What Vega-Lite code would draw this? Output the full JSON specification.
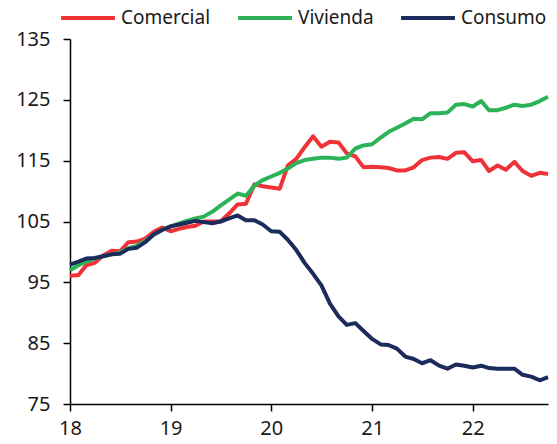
{
  "$schema": "https://vega.github.io/schema/vega-lite/v6.json",
  "width": 478,
  "height": 365,
  "autosize": "none",
  "padding": {"left": 70, "top": 39, "right": 9, "bottom": 40},
  "background": "white",
  "data": {
    "values": [
      {"fecha": "2018-01", "Comercial": 96.1, "Vivienda": 97.0, "Consumo": 97.9},
      {"fecha": "2018-02", "Comercial": 96.2, "Vivienda": 97.8, "Consumo": 98.4},
      {"fecha": "2018-03", "Comercial": 97.8, "Vivienda": 98.4, "Consumo": 98.9},
      {"fecha": "2018-04", "Comercial": 98.2, "Vivienda": 98.9, "Consumo": 99.0},
      {"fecha": "2018-05", "Comercial": 99.4, "Vivienda": 99.3, "Consumo": 99.3},
      {"fecha": "2018-06", "Comercial": 100.2, "Vivienda": 99.6, "Consumo": 99.6},
      {"fecha": "2018-07", "Comercial": 100.1, "Vivienda": 99.9, "Consumo": 99.7},
      {"fecha": "2018-08", "Comercial": 101.6, "Vivienda": 100.6, "Consumo": 100.5},
      {"fecha": "2018-09", "Comercial": 101.7, "Vivienda": 101.0, "Consumo": 100.7},
      {"fecha": "2018-10", "Comercial": 102.2, "Vivienda": 101.8, "Consumo": 101.6},
      {"fecha": "2018-11", "Comercial": 103.3, "Vivienda": 102.8, "Consumo": 102.9},
      {"fecha": "2018-12", "Comercial": 104.0, "Vivienda": 103.6, "Consumo": 103.6},
      {"fecha": "2019-01", "Comercial": 103.4, "Vivienda": 104.2, "Consumo": 104.2},
      {"fecha": "2019-02", "Comercial": 103.8, "Vivienda": 104.7, "Consumo": 104.5},
      {"fecha": "2019-03", "Comercial": 104.1, "Vivienda": 105.1, "Consumo": 104.8},
      {"fecha": "2019-04", "Comercial": 104.3, "Vivienda": 105.5, "Consumo": 105.1},
      {"fecha": "2019-05", "Comercial": 105.0, "Vivienda": 105.8, "Consumo": 104.9},
      {"fecha": "2019-06", "Comercial": 105.0, "Vivienda": 106.6, "Consumo": 104.7},
      {"fecha": "2019-07", "Comercial": 105.0, "Vivienda": 107.6, "Consumo": 105.0},
      {"fecha": "2019-08", "Comercial": 106.3, "Vivienda": 108.6, "Consumo": 105.5},
      {"fecha": "2019-09", "Comercial": 107.8, "Vivienda": 109.6, "Consumo": 106.0},
      {"fecha": "2019-10", "Comercial": 107.9, "Vivienda": 109.2, "Consumo": 105.2},
      {"fecha": "2019-11", "Comercial": 111.1, "Vivienda": 110.9, "Consumo": 105.2},
      {"fecha": "2019-12", "Comercial": 110.8, "Vivienda": 111.8, "Consumo": 104.5},
      {"fecha": "2020-01", "Comercial": 110.6, "Vivienda": 112.4, "Consumo": 103.4},
      {"fecha": "2020-02", "Comercial": 110.4, "Vivienda": 113.0, "Consumo": 103.3},
      {"fecha": "2020-03", "Comercial": 114.2, "Vivienda": 113.7, "Consumo": 102.0},
      {"fecha": "2020-04", "Comercial": 115.3, "Vivienda": 114.6, "Consumo": 100.3},
      {"fecha": "2020-05", "Comercial": 117.2, "Vivienda": 115.1, "Consumo": 98.2},
      {"fecha": "2020-06", "Comercial": 119.0, "Vivienda": 115.3, "Consumo": 96.4},
      {"fecha": "2020-07", "Comercial": 117.3, "Vivienda": 115.5, "Consumo": 94.5},
      {"fecha": "2020-08", "Comercial": 118.1, "Vivienda": 115.5, "Consumo": 91.5},
      {"fecha": "2020-09", "Comercial": 118.0, "Vivienda": 115.3, "Consumo": 89.4},
      {"fecha": "2020-10", "Comercial": 116.2, "Vivienda": 115.5, "Consumo": 88.0},
      {"fecha": "2020-11", "Comercial": 115.7, "Vivienda": 117.0, "Consumo": 88.3},
      {"fecha": "2020-12", "Comercial": 113.9, "Vivienda": 117.5, "Consumo": 87.0},
      {"fecha": "2021-01", "Comercial": 114.0, "Vivienda": 117.7, "Consumo": 85.7},
      {"fecha": "2021-02", "Comercial": 113.9, "Vivienda": 118.8, "Consumo": 84.8},
      {"fecha": "2021-03", "Comercial": 113.8, "Vivienda": 119.7, "Consumo": 84.7},
      {"fecha": "2021-04", "Comercial": 113.4, "Vivienda": 120.4, "Consumo": 84.1},
      {"fecha": "2021-05", "Comercial": 113.4, "Vivienda": 121.1, "Consumo": 82.8},
      {"fecha": "2021-06", "Comercial": 113.9, "Vivienda": 121.9, "Consumo": 82.4},
      {"fecha": "2021-07", "Comercial": 115.1, "Vivienda": 121.8, "Consumo": 81.7},
      {"fecha": "2021-08", "Comercial": 115.5, "Vivienda": 122.8, "Consumo": 82.2},
      {"fecha": "2021-09", "Comercial": 115.6, "Vivienda": 122.8, "Consumo": 81.3},
      {"fecha": "2021-10", "Comercial": 115.3, "Vivienda": 122.9, "Consumo": 80.8},
      {"fecha": "2021-11", "Comercial": 116.3, "Vivienda": 124.2, "Consumo": 81.5},
      {"fecha": "2021-12", "Comercial": 116.4, "Vivienda": 124.3, "Consumo": 81.3},
      {"fecha": "2022-01", "Comercial": 114.9, "Vivienda": 123.9, "Consumo": 81.0},
      {"fecha": "2022-02", "Comercial": 115.1, "Vivienda": 124.8, "Consumo": 81.3},
      {"fecha": "2022-03", "Comercial": 113.3, "Vivienda": 123.3, "Consumo": 80.9},
      {"fecha": "2022-04", "Comercial": 114.2, "Vivienda": 123.3, "Consumo": 80.8},
      {"fecha": "2022-05", "Comercial": 113.5, "Vivienda": 123.7, "Consumo": 80.8},
      {"fecha": "2022-06", "Comercial": 114.8, "Vivienda": 124.2, "Consumo": 80.8},
      {"fecha": "2022-07", "Comercial": 113.3, "Vivienda": 124.0, "Consumo": 79.8},
      {"fecha": "2022-08", "Comercial": 112.5, "Vivienda": 124.2, "Consumo": 79.5},
      {"fecha": "2022-09", "Comercial": 113.0, "Vivienda": 124.8, "Consumo": 78.9},
      {"fecha": "2022-10", "Comercial": 112.8, "Vivienda": 125.5, "Consumo": 79.4}
    ],
    "format": {"parse": {"fecha": "utc:'%Y-%m'"}}
  },
  "transform": [
    {"fold": ["Comercial", "Vivienda", "Consumo"], "as": ["serie", "valor"]}
  ],
  "mark": {"type": "line", "strokeWidth": 4, "strokeJoin": "round"},
  "encoding": {
    "x": {
      "field": "fecha",
      "type": "temporal",
      "scale": {
        "type": "utc",
        "domain": [
          {"year": 2018, "month": 1, "date": 1, "utc": true},
          {"year": 2022, "month": 10, "date": 1, "utc": true}
        ]
      },
      "axis": {
        "values": [
          {"year": 2018, "month": 1, "date": 1, "utc": true},
          {"year": 2019, "month": 1, "date": 1, "utc": true},
          {"year": 2020, "month": 1, "date": 1, "utc": true},
          {"year": 2021, "month": 1, "date": 1, "utc": true},
          {"year": 2022, "month": 1, "date": 1, "utc": true}
        ],
        "labelExpr": "utcFormat(datum.value, '%y')",
        "labelFlush": false,
        "title": null,
        "labelPadding": 7
      }
    },
    "y": {
      "field": "valor",
      "type": "quantitative",
      "scale": {"domain": [75, 135], "nice": false, "zero": false},
      "axis": {
        "values": [75, 85, 95, 105, 115, 125, 135],
        "title": null,
        "labelPadding": 13
      }
    },
    "color": {
      "field": "serie",
      "type": "nominal",
      "scale": {
        "domain": ["Comercial", "Vivienda", "Consumo"],
        "range": ["#EE3237", "#2DB357", "#1B2B5B"]
      },
      "legend": {
        "title": null,
        "orient": "none",
        "direction": "horizontal",
        "legendX": -11,
        "legendY": -50,
        "symbolType": "stroke",
        "symbolSize": 2900,
        "symbolStrokeWidth": 4,
        "labelFontSize": 19,
        "labelFont": "Noto Sans",
        "labelColor": "#1a1a1a",
        "labelOffset": 4,
        "columnPadding": 19
      }
    }
  },
  "config": {
    "view": {"stroke": null},
    "axis": {
      "grid": false,
      "domainColor": "#000000",
      "domainWidth": 1.5,
      "tickColor": "#000000",
      "tickWidth": 1.5,
      "tickSize": 7,
      "labelFont": "Noto Sans",
      "labelFontSize": 20,
      "labelColor": "#1a1a1a"
    }
  }
}
